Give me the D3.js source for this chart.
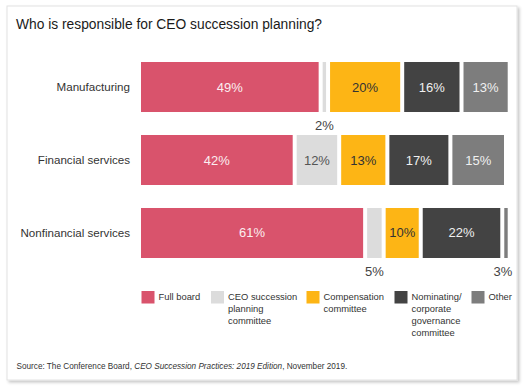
<!DOCTYPE html>
<html>
<head>
<meta charset="utf-8">
<script src="https://cdn.jsdelivr.net/npm/d3@7"></script>
<style>
  html, body { margin: 0; padding: 0; background: #ffffff; }
  svg { display: block; font-family: "Liberation Sans", Arial, Helvetica, sans-serif; }
</style>
</head>
<body>
<svg id="chart" width="526" height="388"></svg>
<script>
const categories = ["Manufacturing", "Financial services", "Nonfinancial services"];
const seriesNames = ["Full board", "CEO succession planning committee", "Compensation committee", "Nominating/ corporate governance committee", "Other"];
const legendLines = [["Full board"], ["CEO succession", "planning", "committee"], ["Compensation", "committee"], ["Nominating/", "corporate", "governance", "committee"], ["Other"]];
const fullBoard = [49, 42, 61];
const ceoCommittee = [2, 12, 5];
const compensation = [20, 13, 10];
const nominating = [16, 17, 22];
const other = [13, 15, 3];
const colors = ["#d9536c", "#dcdcdc", "#fdb515", "#434343", "#7d7d7d"];
const textColors = ["#fbeef0", "#555555", "#333333", "#f0f0f0", "#f0f0f0"];
const title = "Who is responsible for CEO succession planning?";

const svg = d3.select("#chart");

// card with shadow
const defs = svg.append("defs");
const f = defs.append("filter").attr("id", "shadow").attr("x", "-5%").attr("y", "-5%").attr("width", "110%").attr("height", "110%");
f.append("feDropShadow").attr("dx", 2).attr("dy", 2).attr("stdDeviation", 1.6).attr("flood-color", "#000").attr("flood-opacity", 0.22);
svg.append("rect").attr("x", 7).attr("y", 6).attr("width", 510).attr("height", 374)
  .attr("fill", "#fff").attr("stroke", "#e2e2e2").attr("stroke-width", 1).attr("filter", "url(#shadow)");

svg.append("text").attr("x", 16).attr("y", 29).attr("font-size", 13.8).attr("fill", "#1a1a1a").text(title);

const rows = categories.map((c, i) => ({
  cat: c,
  vals: [fullBoard[i], ceoCommittee[i], compensation[i], nominating[i], other[i]]
}));

const x = d3.scaleLinear().domain([0, 100]).range([141, 511.7]).clamp(true);
const y = d3.scaleBand().domain(categories).range([62, 258]).paddingInner(0.315).paddingOuter(0);
const gap = 4;

const segs = [];
rows.forEach(r => {
  let cum = 0;
  r.vals.forEach((v, k) => {
    segs.push({cat: r.cat, k, v, x0: cum, x1: cum + v});
    cum += v;
  });
});

const g = svg.append("g");
g.selectAll("rect.seg").data(segs).join("rect")
  .attr("class", "seg")
  .attr("x", d => x(d.x0))
  .attr("y", d => y(d.cat))
  .attr("width", d => Math.max(1, x(d.x1) - x(d.x0) - gap))
  .attr("height", y.bandwidth())
  .attr("fill", d => colors[d.k]);

g.selectAll("text.val").data(segs).join("text")
  .attr("class", "val")
  .attr("x", d => (x(d.x0) + x(d.x1) - gap) / 2 - (d.v < 10 && d.k === 4 ? 3 : 0))
  .attr("y", d => d.v >= 10 ? y(d.cat) + y.bandwidth() / 2 + 4.5 : y(d.cat) + y.bandwidth() + 18)
  .attr("text-anchor", "middle")
  .attr("font-size", 13)
  .attr("fill", d => d.v >= 10 ? textColors[d.k] : "#444")
  .text(d => d.v + "%");

// category axis
const yAxis = d3.axisLeft(y).tickSize(0).tickPadding(0);
const ag = svg.append("g").attr("transform", "translate(130,0)").call(yAxis);
ag.select(".domain").remove();
ag.selectAll("text").attr("font-size", 11.6).attr("fill", "#333").attr("font-family", "Liberation Sans, Arial, sans-serif");

// legend
const legendX = [141.5, 211, 306.5, 394.5, 471.5];
const lg = svg.append("g");
seriesNames.forEach((s, i) => {
  const it = lg.append("g").attr("transform", `translate(${legendX[i]},291)`);
  it.append("rect").attr("width", 13).attr("height", 12.5).attr("fill", colors[i]);
  const t = it.append("text").attr("x", 17).attr("y", 9).attr("font-size", 9.4).attr("fill", "#333");
  legendLines[i].forEach((ln, j) => {
    t.append("tspan").attr("x", 17).attr("dy", j === 0 ? 0 : 12).text(ln);
  });
});

// source
const src = svg.append("text").attr("x", 16.5).attr("y", 369).attr("font-size", 8.2).attr("fill", "#333");
src.append("tspan").text("Source: The Conference Board, ");
src.append("tspan").attr("font-style", "italic").text("CEO Succession Practices: 2019 Edition");
src.append("tspan").text(", November 2019.");
</script>
</body>
</html>
